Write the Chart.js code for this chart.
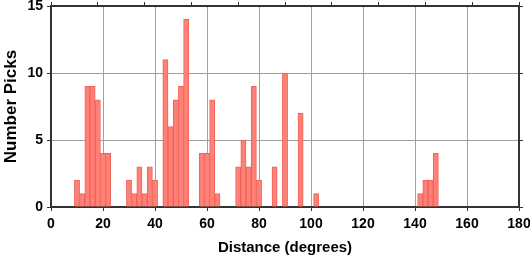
<!DOCTYPE html>
<html>
<head>
<meta charset="utf-8">
<script src="https://cdn.jsdelivr.net/npm/chart.js@4"></script>
<style>
  body { margin: 0; background: #fff; }
  canvas { display: block; }
</style>
</head>
<body>
<canvas id="picks" width="530" height="258"></canvas>
<script>
// histogram of picks, 2 degree bins (centres listed, empty bins left out)
const binCenters = [10, 12, 14, 16, 18, 20, 22, 30, 32, 34, 36, 38, 40, 44, 46, 48, 50, 52,
                    58, 60, 62, 64, 72, 74, 76, 78, 80, 86, 90, 96, 102, 142, 144, 146, 148];
const counts = [2, 1, 9, 9, 8, 4, 4, 2, 1, 3, 1, 3, 2, 11, 6, 8, 9, 14,
                4, 4, 8, 1, 3, 5, 3, 9, 2, 3, 10, 7, 1, 1, 2, 2, 4];
const xTicks = [0, 20, 40, 60, 80, 100, 120, 140, 160, 180];
const yTicks = [0, 5, 10, 15];

const tickFont = { family: "Liberation Sans", size: 14, weight: "bold" };
const frame = { display: true, color: "#333", width: 2 };

let points = [];
for (let i = 0; i < binCenters.length; i++) {
    points.push({ x: binCenters[i], y: counts[i] });
}

// fixed box sizes, and no extra room for labels that hang over the ends
function fixSize(prop, val) {
    return function (scale) {
        scale[prop] = val;
        scale.paddingTop = 0;
        scale.paddingBottom = 0;
        scale.paddingLeft = 0;
        scale.paddingRight = 0;
    };
}

new Chart(document.getElementById("picks"), {
    type: "bar",
    data: {
        datasets: [{
            data: points,
            backgroundColor: "rgb(255,128,118)",
            borderColor: "rgb(240,98,88)",
            borderWidth: 1,
            barPercentage: 1,
            categoryPercentage: 1
        }]
    },
    options: {
        responsive: false,
        animation: false,
        layout: { padding: 0 },
        plugins: { legend: { display: false }, tooltip: { enabled: false } },
        scales: {
            x: {
                type: "linear",
                position: "bottom",
                min: 0, max: 180,
                offset: false,
                afterBuildTicks: s => { s.ticks = xTicks.map(v => ({ value: v })); },
                afterFit: fixSize("height", 51),
                grid: { offset: false, color: "#a0a0a0", tickColor: "#333", tickLength: 4 },
                border: frame,
                ticks: { font: tickFont, color: "#000", padding: 5, autoSkip: false, maxRotation: 0 },
                title: { display: true, text: "Distance (degrees)", color: "#000",
                         font: { family: "Liberation Sans", size: 15, weight: "bold" },
                         padding: { top: 0, bottom: 1 } }
            },
            x2: {
                type: "linear",
                position: "top",
                min: 0, max: 180,
                afterBuildTicks: s => { s.ticks = xTicks.map(v => ({ value: v })); },
                afterFit: fixSize("height", 6),
                grid: { drawOnChartArea: false, tickColor: "#333", tickLength: 4 },
                border: frame,
                ticks: { display: false }
            },
            y: {
                position: "left",
                min: 0, max: 15,
                afterBuildTicks: s => { s.ticks = yTicks.map(v => ({ value: v })); },
                afterFit: fixSize("width", 51),
                grid: { color: "#a0a0a0", tickColor: "#333", tickLength: 4 },
                border: frame,
                ticks: { font: tickFont, color: "#000", padding: 4 },
                title: { display: true, text: "Number Picks", color: "#000",
                         font: { family: "Liberation Sans", size: 17, weight: "bold" },
                         padding: { top: 1, bottom: 0 } }
            },
            y2: {
                position: "right",
                min: 0, max: 15,
                afterBuildTicks: s => { s.ticks = yTicks.map(v => ({ value: v })); },
                afterFit: fixSize("width", 11),
                grid: { drawOnChartArea: false, tickColor: "#333", tickLength: 4 },
                border: frame,
                ticks: { display: false }
            }
        }
    }
});
</script>
</body>
</html>
